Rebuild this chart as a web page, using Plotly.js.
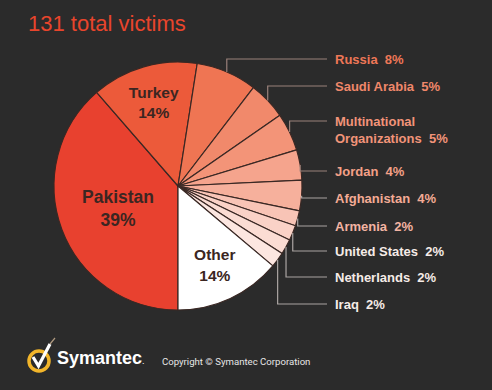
<!DOCTYPE html>
<html>
<head>
<meta charset="utf-8">
<script src="https://cdn.plot.ly/plotly-3.0.1.min.js"></script>
<style>html,body{margin:0;padding:0;background:#2b2b2b;}#chart{width:492px;height:390px;}</style>
</head>
<body>
<div id="chart"></div>
<script>
// ---- data ----
const titleText = '131 total victims';
const labels = ['Pakistan','Turkey','Russia','Saudi Arabia','Multinational Organizations','Jordan','Afghanistan','Armenia','United States','Netherlands','Iraq','Other'];
const percents = [39,14,8,5,5,4,4,2,2,2,2,14];
const insideLabels = ['Pakistan','Turkey','Other'];
const copyrightText = 'Copyright \u00a9 Symantec Corporation';
const brandText = 'Symantec';

// ---- styles ----
const W = 492, H = 390;
const sliceColors = ['#e8412f','#ec5a3a','#ef7553','#f1896b','#f39478','#f5a48d','#f6b09c','#f8c4b6','#fad2c7','#fbdcd3','#fce6e0','#ffffff'];
const labelColors = {'Russia':'#ee7757','Saudi Arabia':'#f0876a','Multinational Organizations':'#f29479','Jordan':'#f3a087','Afghanistan':'#f4ab95','Armenia':'#f3b4a3','United States':'#f6ebe7','Netherlands':'#f6ebe7','Iraq':'#f6ebe7'};
const labelYpx = {'Russia':59,'Saudi Arabia':86,'Multinational Organizations':130,'Jordan':171,'Afghanistan':198,'Armenia':226,'United States':251,'Netherlands':277,'Iraq':304};
const labelXpx = 333;
const domX = [54/W, 302/W], domY = [1-310/H, 1-62/H];
const cx = W*(domX[0]+domX[1])/2, cy = H*(1-(domY[0]+domY[1])/2);
const R = Math.min(W*(domX[1]-domX[0]), H*(domY[1]-domY[0]))/2;
const px = x => x/W, py = y => 1 - y/H;

const total = percents.reduce((a,b)=>a+b,0);
const insideText = labels.map((l,i)=> insideLabels.includes(l) ? '<b>'+l+'</b><br><b>'+percents[i]+'%</b>' : '');
const textPos = labels.map(l => insideLabels.includes(l) ? 'inside' : 'none');
const insideSizes = labels.map(l => l==='Pakistan' ? 17.5 : 15.5);

const pie = {
  type:'pie', labels: labels, values: percents, sort:false, direction:'clockwise', rotation:180,
  marker:{colors: sliceColors, line:{color:'#3a2824', width:1.2}},
  text: insideText, textinfo:'text', textposition: textPos, insidetextorientation:'horizontal',
  insidetextfont:{family:'Liberation Sans, Arial, sans-serif', size: insideSizes, color:'#3b2622'},
  domain:{x:domX, y:domY}, hoverinfo:'none', showlegend:false
};

const annotations = [];
const shapes = [];
let cum = 0;
labels.forEach((l,i)=>{
  const start = 180 + cum/total*360;
  cum += percents[i];
  const end = 180 + cum/total*360;
  if (insideLabels.includes(l)) return;
  const mid = ((start+end)/2) * Math.PI/180;
  const ex = cx + R*Math.sin(mid), ey = cy - R*Math.cos(mid);
  const two = l.indexOf(' ')>0 && l.length>20;
  const ly = labelYpx[l];
  const lineY = two ? ly-9 : ly;
  const disp = two ? l.replace(' ','<br>') : l;
  annotations.push({
    xref:'paper', yref:'paper', x: px(labelXpx), y: py(ly), xanchor:'left', yanchor:'middle', align:'left',
    text:'<b>'+disp+'\u00a0\u00a0'+percents[i]+'%</b>', showarrow:false,
    font:{family:'Liberation Sans, Arial, sans-serif', size:13, color: labelColors[l]}
  });
  shapes.push({type:'path', xref:'paper', yref:'paper',
    path:'M '+px(ex)+','+py(ey)+' L '+px(ex)+','+py(lineY)+' L '+px(labelXpx-6)+','+py(lineY),
    line:{color: i<6 ? '#9a817a' : '#aaa4a2', width:1.2}});
});

// logo
shapes.push({type:'circle', xref:'paper', yref:'paper', x0:px(29), x1:px(49), y0:py(371), y1:py(351), line:{color:'#f2b52a', width:3.5}, fillcolor:'rgba(0,0,0,0)'});
shapes.push({type:'path', xref:'paper', yref:'paper', path:'M '+px(33)+','+py(357)+' L '+px(38.5)+','+py(366)+' L '+px(50)+','+py(344),
  line:{color:'#ffffff', width:3.2}});
shapes.push({type:'path', xref:'paper', yref:'paper', path:'M '+px(50)+','+py(344)+' L '+px(55)+','+py(338),
  line:{color:'#b09a80', width:1.2}});
annotations.push({xref:'paper', yref:'paper', x:px(55), y:py(358), xanchor:'left', yanchor:'middle', showarrow:false,
  text:'<b>'+brandText+'</b><span style="font-size:9px">.</span>', font:{family:'Liberation Sans, Arial, sans-serif', size:18, color:'#ffffff'}});
annotations.push({xref:'paper', yref:'paper', x:px(160), y:py(361), xanchor:'left', yanchor:'middle', showarrow:false,
  text:copyrightText, font:{family:'Roboto, sans-serif', size:9.6, color:'#e6e6e6'}});

const layout = {
  width:W, height:H, margin:{l:0,r:0,t:0,b:0},
  paper_bgcolor:'#2b2b2b', plot_bgcolor:'#2b2b2b',
  title:{text:titleText, x:px(28), xanchor:'left', xref:'container', y:1-23/H, yref:'container', yanchor:'middle',
    font:{family:'Liberation Sans, Arial, sans-serif', size:22, color:'#e8452c'}},
  annotations: annotations, shapes: shapes, showlegend:false
};
Plotly.newPlot('chart', [pie], layout, {staticPlot:true, displayModeBar:false});
</script>
</body>
</html>
